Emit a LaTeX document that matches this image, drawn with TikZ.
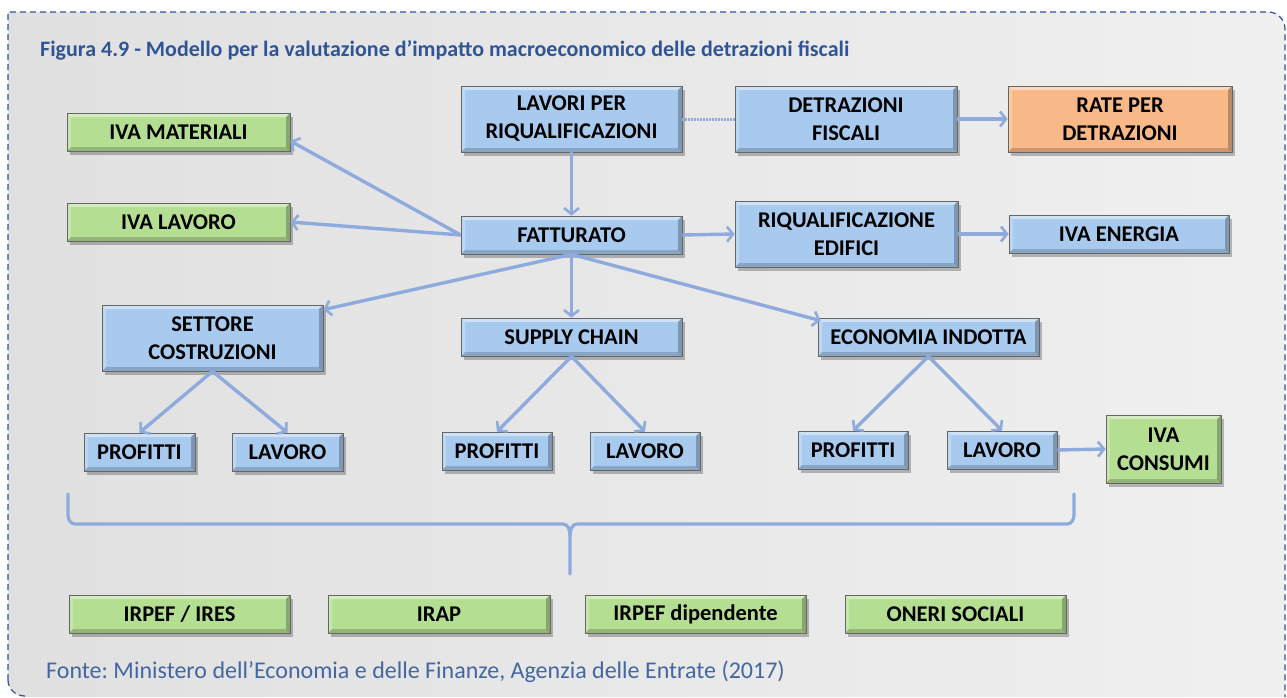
\documentclass[tikz,border=0pt]{standalone}
\usepackage{fontspec}
\setmainfont{Carlito}
\usetikzlibrary{arrows.meta,shadows,calc}
\frenchspacing
\definecolor{titleblue}{HTML}{2F5597}
\definecolor{arrowblue}{HTML}{8FAADC}
\definecolor{bluefill}{HTML}{A7CAEE}
\definecolor{greenfill}{HTML}{B4DE92}
\definecolor{orangefill}{HTML}{F9B888}
\tikzset{
  box/.style={draw=black!60, line width=0.7pt, inner sep=0pt, align=center,
    font=\bfseries\fontsize{22.5}{28}\selectfont,
    drop shadow={shadow xshift=2.5pt, shadow yshift=-3.5pt, opacity=0.25, fill=black},
    path picture={
      \fill[white, opacity=0.45] (path picture bounding box.north west) -- (path picture bounding box.north east)
        -- ([xshift=-4pt,yshift=-4pt]path picture bounding box.north east) -- ([xshift=4pt,yshift=-4pt]path picture bounding box.north west) -- cycle;
      \fill[white, opacity=0.25] (path picture bounding box.north west) -- (path picture bounding box.south west)
        -- ([xshift=4pt,yshift=4pt]path picture bounding box.south west) -- ([xshift=4pt,yshift=-4pt]path picture bounding box.north west) -- cycle;
      \fill[black, opacity=0.18] (path picture bounding box.south west) -- (path picture bounding box.south east)
        -- ([xshift=-4pt,yshift=4pt]path picture bounding box.south east) -- ([xshift=4pt,yshift=4pt]path picture bounding box.south west) -- cycle;
      \fill[black, opacity=0.25] (path picture bounding box.north east) -- (path picture bounding box.south east)
        -- ([xshift=-4pt,yshift=4pt]path picture bounding box.south east) -- ([xshift=-4pt,yshift=-4pt]path picture bounding box.north east) -- cycle;
    }},
  bbox/.style={box, fill=bluefill},
  gbox/.style={box, fill=greenfill},
  obox/.style={box, fill=orangefill},
  conn/.style={draw=arrowblue, line width=3.4pt, -{Straight Barb[length=6pt,width=15pt,line width=2.6pt]}},
  plain/.style={draw=arrowblue, line width=3.2pt, line cap=round, line join=round}
}
\begin{document}
\begin{tikzpicture}[x=1pt,y=-1pt]
\useasboundingbox (0,0) rectangle (1287,697);
% background
\shade[left color=black!12, right color=black!6]
  (8,12) -- (1268,12) to[out=0,in=90] (1285,29) -- (1285,697) -- (25,697) to[out=180,in=-90] (8,680) -- cycle;
\draw[titleblue, line width=1.2pt, dash pattern=on 6pt off 4pt]
  (8,680) -- (8,12) -- (1268,12) to[out=0,in=90] (1285,29) -- (1285,697);
\draw[titleblue, line width=1.2pt, dash pattern=on 6pt off 4pt]
  (8,680) to[out=-90,in=180] (25,696);
% title
\node[anchor=base west, inner sep=0pt, text=titleblue, font=\bfseries\fontsize{22}{26}\selectfont] (title) at (40,56)
  {Figura 4.9 - Modello per la valutazione d’impatto macroeconomico delle detrazioni fiscali};
\node[anchor=base west, inner sep=0pt, text=titleblue!90!white, font=\fontsize{24}{26}\selectfont] (fonte) at (46,678)
  {Fonte: Ministero dell’Economia e delle Finanze, Agenzia delle Entrate (2017)};
% nodes
\node[bbox, minimum width=221pt, minimum height=66pt] (lavori) at (571.5,119) {LAVORI PER\\RIQUALIFICAZIONI};
\node[bbox, minimum width=222pt, minimum height=66pt] (detr) at (846,119) {DETRAZIONI\\FISCALI};
\node[obox, minimum width=224pt, minimum height=66pt] (rate) at (1120,119) {RATE PER\\DETRAZIONI};
\node[gbox, minimum width=223pt, minimum height=38pt] (ivamat) at (178.5,132) {IVA MATERIALI};
\node[gbox, minimum width=223pt, minimum height=38pt] (ivalav) at (178.5,222) {IVA LAVORO};
\node[bbox, minimum width=221pt, minimum height=38pt] (fatt) at (571.5,235) {FATTURATO};
\node[bbox, minimum width=223pt, minimum height=66pt] (riq) at (846.5,234) {RIQUALIFICAZIONE\\EDIFICI};
\node[bbox, minimum width=220pt, minimum height=38pt] (ivaen) at (1119,234) {IVA ENERGIA};
\node[bbox, minimum width=221pt, minimum height=66pt] (sett) at (212.5,338) {SETTORE\\COSTRUZIONI};
\node[bbox, minimum width=221pt, minimum height=38pt] (supply) at (571.5,337) {SUPPLY CHAIN};
\node[bbox, minimum width=221pt, minimum height=38pt] (econ) at (928.5,337) {ECONOMIA INDOTTA};
\node[bbox, minimum width=111pt, minimum height=38pt] (prof1) at (139.5,452) {PROFITTI};
\node[bbox, minimum width=111pt, minimum height=38pt] (lav1) at (287.5,452) {LAVORO};
\node[bbox, minimum width=110pt, minimum height=38pt] (prof2) at (497,451) {PROFITTI};
\node[bbox, minimum width=110pt, minimum height=38pt] (lav2) at (645,451) {LAVORO};
\node[bbox, minimum width=110pt, minimum height=38pt] (prof3) at (853,450) {PROFITTI};
\node[bbox, minimum width=110pt, minimum height=38pt] (lav3) at (1002,450) {LAVORO};
\node[gbox, minimum width=115pt, minimum height=68pt] (ivacons) at (1163.5,449) {IVA\\CONSUMI};
\node[gbox, minimum width=221pt, minimum height=38pt] (irpef) at (179.5,614) {IRPEF / IRES};
\node[gbox, minimum width=222pt, minimum height=38pt] (irap) at (439,614) {IRAP};
\node[gbox, minimum width=221pt, minimum height=38pt] (irpefd) at (695.5,614) {IRPEF dipendente};
\node[gbox, minimum width=221pt, minimum height=38pt] (oneri) at (955.5,614) {ONERI SOCIALI};
% connectors
\draw[conn] (lavori.south) -- (fatt.north);
\draw[draw=arrowblue, line width=3pt, dash pattern=on 2pt off 1pt] (lavori.east) -- (detr.west);
\draw[conn] (detr.east) -- (rate.west);
\draw[conn] (fatt.west) -- ($(ivamat.east)+(0,9)$);
\draw[conn] (fatt.west) -- (ivalav.east);
\draw[conn] (fatt.east) -- (riq.west);
\draw[conn] (riq.east) -- (ivaen.west);
\draw[conn] (fatt.south) -- ($(sett.north east)+(0,5)$);
\draw[conn] (fatt.south) -- (supply.north);
\draw[conn] (fatt.south) -- ($(econ.north west)+(3,3)$);
\draw[conn] (sett.south) -- (prof1.north);
\draw[conn] (sett.south) -- (lav1.north);
\draw[conn] (supply.south) -- (prof2.north);
\draw[conn] (supply.south) -- (lav2.north);
\draw[conn] (econ.south) -- (prof3.north);
\draw[conn] (econ.south) -- (lav3.north);
\draw[conn] (lav3.east) -- (ivacons.west);
% brace
\coordinate (bl) at (68,494);
\coordinate (br) at (1074,494);
\coordinate (bc) at (570,574);
\draw[plain] (bl) -- (68,515) to[out=-90,in=180] (75,524) -- (563,524) to[out=0,in=90] (bc |- 0,536) -- (bc);
\draw[plain] (br) -- (1074,515) to[out=-90,in=0] (1067,524) -- (577,524) to[out=180,in=90] (bc |- 0,536);
\end{tikzpicture}
\end{document}
